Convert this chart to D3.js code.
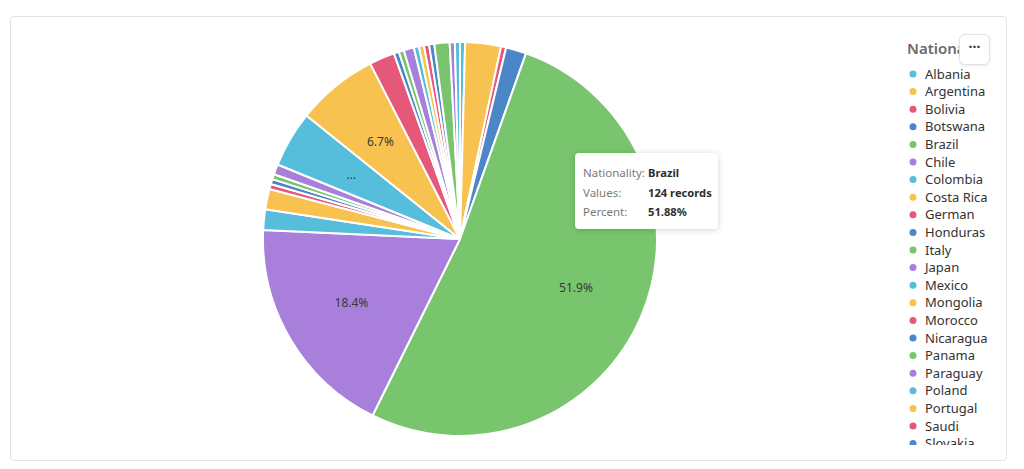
<!DOCTYPE html>
<html>
<head>
<meta charset="utf-8">
<script src="https://cdn.jsdelivr.net/npm/d3@7"></script>
<style>
  html, body { margin: 0; padding: 0; background: #fff; }
  body { width: 1024px; height: 469px; position: relative; overflow: hidden; font-family: "Noto Sans", "Open Sans", sans-serif; }
  #card { position: absolute; left: 10px; top: 16px; width: 997px; height: 445px; border: 1px solid #e3e3e3; border-radius: 4px; box-sizing: border-box; }
  #tip { position: absolute; left: 575px; top: 153px; width: 143px; height: 76px; background: #fff; border-radius: 4px;
         box-shadow: 0 1px 6px rgba(0,0,0,0.18); box-sizing: border-box; font-size: 11.5px; color: #7a7a7a; }
  #tip .row { position: absolute; left: 8px; white-space: nowrap; }
  #tip b { position: absolute; left: 65px; color: #2e2e2e; font-weight: 700; font-size: 11.2px; }
  #btn { position: absolute; left: 959px; top: 34px; width: 31px; height: 31px; border: 1px solid #e2e2e2; border-radius: 6px; background: #fff;
         box-sizing: border-box; box-shadow: 0 1px 3px rgba(0,0,0,0.08); text-align: center; font-size: 14px; line-height: 24px; color: #333; font-weight: 700; }
</style>
</head>
<body>
<div id="card"></div>
<svg id="chart" width="1024" height="469" style="position:absolute;left:0;top:0"></svg>
<div id="tip">
  <div class="row" style="top:12px">Nationality:<b>Brazil</b></div>
  <div class="row" style="top:32px">Values:<b>124 records</b></div>
  <div class="row" style="top:51px">Percent:<b>51.88%</b></div>
</div>
<div id="btn">···</div>
<script>
const countries = ["Albania","Argentina","Bolivia","Botswana","Brazil","Chile","Colombia","Costa Rica","German","Honduras","Italy","Japan","Mexico","Mongolia","Morocco","Nicaragua","Panama","Paraguay","Poland","Portugal","Saudi","Slovakia","Spain","Uruguay","Venezuela"];
const records   = [1,7,1,4,124,44,4,4,1,1,1,2,11,16,5,1,1,2,1,1,1,1,3,1,1];
const palette   = ["#56bedb","#f7c24f","#e5587a","#4a86c8","#78c56d","#a87fdb"];
const legendTitle = "Nationality";

const svg = d3.select("#chart");
const cx = 460, cy = 239, R = 197;
const total = d3.sum(records);
const data = countries.map((c, i) => ({ name: c, value: records[i], i }));
const color = d3.scaleOrdinal().domain(countries).range(palette);

const pie = d3.pie().value(d => d.value).sort(null);
const arc = d3.arc().innerRadius(0).outerRadius(R);
const labelArc = d3.arc().innerRadius(126).outerRadius(126);

const g = svg.append("g").attr("transform", `translate(${cx},${cy})`);
const arcs = pie(data);
g.selectAll("path").data(arcs).join("path")
  .attr("d", arc)
  .attr("fill", d => color(d.data.name))
  .attr("stroke", "#fff").attr("stroke-width", 2).attr("stroke-linejoin", "round");

const fmt = d3.format(".1%");
g.selectAll("text.lbl").data(arcs.filter(d => d.data.value / total > 0.04)).join("text")
  .attr("class", "lbl")
  .attr("transform", d => `translate(${labelArc.centroid(d)})`)
  .attr("text-anchor", "middle").attr("dy", "0.35em")
  .attr("font-size", 12).attr("fill", "#3a3a3a")
  .text(d => d.data.value / total < 0.05 ? "..." : fmt(d.data.value / total));

// legend
const lg = svg.append("g");
svg.append("defs").append("clipPath").attr("id", "lclip")
  .append("rect").attr("x", 895).attr("y", 30).attr("width", 110).attr("height", 415);
const lgc = lg.attr("clip-path", "url(#lclip)");
lgc.append("text").attr("x", 907).attr("y", 54).attr("font-size", 15).attr("font-weight", 600)
  .attr("fill", "#6b6b6b").text(legendTitle);
const items = lgc.selectAll("g.item").data(data).join("g").attr("class", "item")
  .attr("transform", (d, i) => `translate(913, ${74 + i * 17.6})`);
items.append("circle").attr("r", 3.5).attr("fill", d => color(d.name));
items.append("text").attr("x", 12).attr("dy", "0.35em").attr("font-size", 13).attr("fill", "#333")
  .text(d => d.name);
</script>
</body>
</html>
